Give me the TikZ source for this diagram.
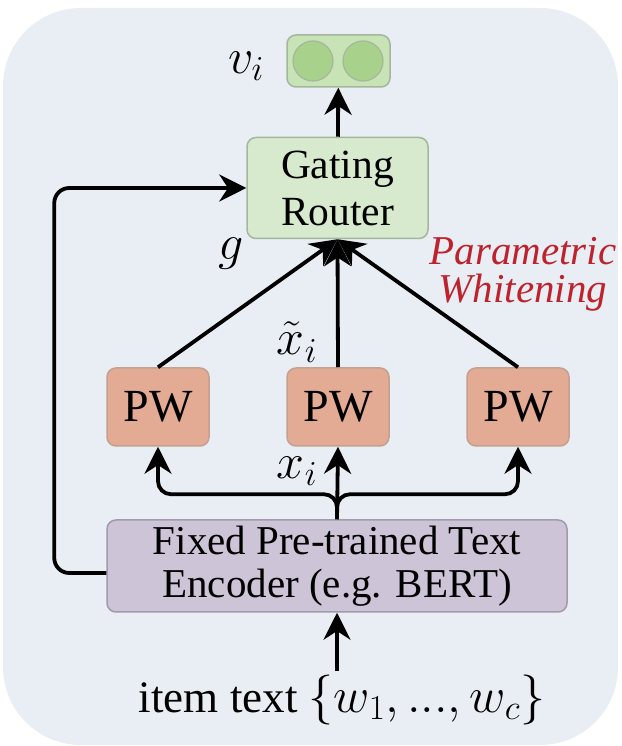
\documentclass[tikz,border=0pt]{standalone}
\usepackage{fix-cm}
\usepackage[no-math]{fontspec}
\setmainfont{Liberation Serif}
\usetikzlibrary{arrows.meta, positioning}

\definecolor{bgblue}{RGB}{232,238,243}
\definecolor{routergreen}{RGB}{216,234,206}
\definecolor{routerline}{RGB}{165,182,158}
\definecolor{vecgreen}{RGB}{200,227,182}
\definecolor{dotgreen}{RGB}{168,210,140}
\definecolor{pwred}{RGB}{227,170,148}
\definecolor{pwline}{RGB}{196,160,146}
\definecolor{encpurple}{RGB}{205,197,215}
\definecolor{encline}{RGB}{160,154,170}
\definecolor{pwtext}{RGB}{190,35,45}

\begin{document}
\begin{tikzpicture}[x=1pt, y=1pt, >={Stealth[length=27pt, width=27pt]},
  every node/.style={font=\fontsize{41}{43}\selectfont},
  box/.style={rounded corners=9pt, line width=1.5pt, align=center, inner sep=0pt},
  routerbox/.style={box, fill=routergreen, draw=routerline, minimum width=181, minimum height=101, font=\fontsize{41.5}{47}\selectfont},
  pwbox/.style={box, fill=pwred, draw=pwline, minimum width=102, minimum height=78, font=\fontsize{46}{48}\selectfont},
  encbox/.style={box, fill=encpurple, draw=encline, minimum width=460, minimum height=92},
  dot/.style={circle, fill=dotgreen, draw=routerline, line width=1.2pt, minimum size=40, inner sep=0pt},
  mathlab/.style={font=\fontsize{50}{52}\selectfont, inner sep=0pt},
  arr/.style={->, line width=3.8pt}]
\useasboundingbox (0,0) rectangle (621,746);
\fill[bgblue, rounded corners=78pt] (3,1) rectangle (618,738);

% nodes
\node[routerbox] (router) at (337.5,558) {Gating\\Router};
\node[box, fill=vecgreen, draw=routerline, minimum width=103, minimum height=52] (vec) at (338.5,685) {};
\node[dot] (d1) at (313,685) {};
\node[dot] (d2) at (363,685) {};
\node[mathlab] (vlab) at (246,680) {$v_i$};
\node[pwbox] (pw1) at (158,339) {PW};
\node[pwbox] (pw2) at (338,339) {PW};
\node[pwbox] (pw3) at (518,339) {PW};
\node[encbox] (enc) at (337,180) {Fixed Pre-trained Text\\Encoder (e.g. BERT)};
\node[font=\fontsize{45}{47}\selectfont] (item) at (342,46) {item text {\fontsize{50}{52}\selectfont$\{w_1, ..., w_c\}$}};
\node[mathlab] (glab) at (231,492) {$g$};
\node[mathlab] (xtlab) at (297,404) {$\tilde{x}_i$};
\node[mathlab] (xlab) at (297,275) {$x_i$};
\node[align=center, text=pwtext, font=\fontsize{41}{38}\selectfont\itshape] (pwlab) at (523,472) {Parametric\\Whitening};

% connectors
\draw[arr] (router) -- (vec);
\draw[arr] (pw1.north) -- (router.south);
\draw[arr] (pw2.north) -- (router.south);
\draw[arr] (pw3.north) -- (router.south);
\draw[arr] (enc.north) -- (pw2.south);
\draw[arr, rounded corners=13pt] (enc.north) -- ++(0,25) -| (pw1.south);
\draw[arr, rounded corners=13pt] (enc.north) -- ++(0,25) -| (pw3.south);
\draw[arr, rounded corners=15pt] ([yshift=-7pt]enc.west) -- ++(-52,0) |- (router.west);
\draw[arr] (item.north -| enc) -- (enc);
\end{tikzpicture}
\end{document}
